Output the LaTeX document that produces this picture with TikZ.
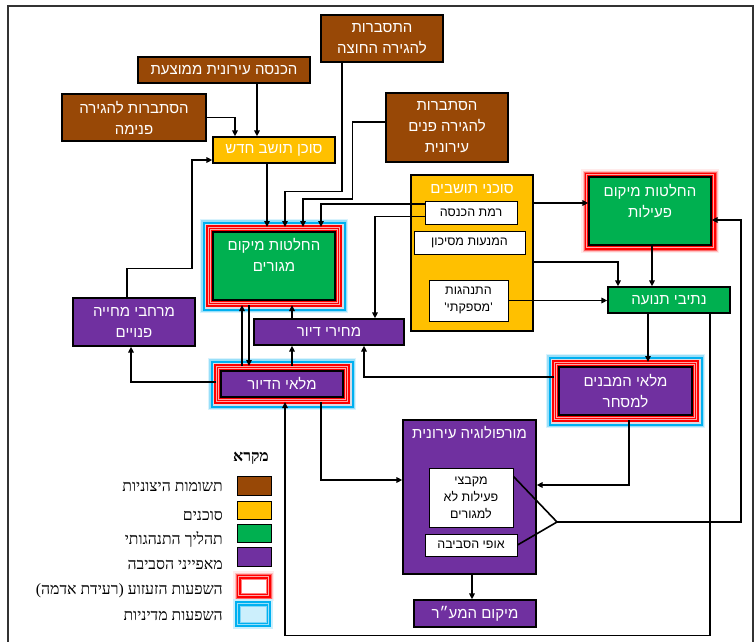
\documentclass[tikz,border=0pt]{standalone}
\usepackage{fontspec}
\setmainfont{Liberation Serif}
\newfontfamily\hsans[Script=Hebrew]{Liberation Sans}
\newfontfamily\hserif[Script=Hebrew]{Liberation Serif}
\usetikzlibrary{arrows.meta}
\TeXXeTstate=1
\newcommand\heb[1]{\beginR #1\endR}
\definecolor{cbrown}{RGB}{152,72,6}
\definecolor{cyel}{RGB}{255,192,0}
\definecolor{cgreen}{RGB}{0,176,80}
\definecolor{cpurp}{RGB}{112,48,160}
\definecolor{cblue}{RGB}{0,176,240}
\tikzset{
  box/.style={draw=black, line width=1.3pt, text=white, font=\hsans\fontsize{15}{21}\selectfont, align=center, inner sep=0pt},
  brownbox/.style={box, fill=cbrown},
  yelbox/.style={box, fill=cyel},
  greenbox/.style={box, fill=cgreen},
  purpbox/.style={box, fill=cpurp},
  wbox/.style={draw=black, line width=1pt, fill=white, text=black, font=\hsans\fontsize{12.5}{17}\selectfont, align=center, inner sep=0pt},
  ttl/.style={text=white, font=\hsans\fontsize{15}{21}\selectfont, align=center, inner sep=0pt},
  legtext/.style={anchor=east, font=\hserif\fontsize{15.8}{18}\selectfont, inner sep=0pt},
  redglow/.style={
    preaction={draw=red!8, line width=16pt},
    preaction={draw=red!25, line width=13pt},
    preaction={draw=red!60, line width=11pt},
    preaction={draw=red, line width=9pt},
    preaction={draw=red!35, line width=6pt},
    preaction={draw=red, line width=4.5pt}},
  bothglow/.style={
    preaction={draw=cblue!15, line width=26pt},
    preaction={draw=cblue!40, line width=23.5pt},
    preaction={draw=cblue, line width=21pt},
    preaction={draw=blue!15!gray!25, line width=17pt},
    preaction={draw=red, line width=14pt},
    preaction={draw=red!35, line width=10pt},
    preaction={draw=red, line width=8pt},
    preaction={draw=red!35, line width=5.5pt},
    preaction={draw=red, line width=4pt}},
  arr/.style={line width=1.6pt, -{Triangle[length=6pt,width=5.5pt]}},
  ln/.style={line width=1.6pt},
}
\begin{document}
\begin{tikzpicture}[x=1pt, y=-1pt]
\useasboundingbox (0,0) rectangle (756,642);
\draw[line width=1.3pt, black!80] (8,642) -- (8,6) -- (753,6) -- (753,642);

% external inputs
\node[brownbox, minimum width=122, minimum height=47] (extout) at (382,38.5) {\heb{התסברות}\\\heb{להגירה החוצה}};
\node[brownbox, minimum width=172, minimum height=26] (income) at (224,70) {\heb{הכנסה עירונית ממוצעת}};
\node[brownbox, minimum width=144, minimum height=47] (inmig) at (134,117.5) {\heb{הסתברות להגירה}\\\heb{פנימה}};
\node[brownbox, minimum width=122, minimum height=69] (intra) at (447,127.5) {\heb{הסתברות}\\\heb{להגירה פנים}\\\heb{עירונית}};

% agents
\node[yelbox, minimum width=122, minimum height=26] (newagent) at (274,150) {\heb{סוכן תושב חדש}};
\node[yelbox, minimum width=122, minimum height=156] (agents) at (472,253) {};
\node[ttl] (agentsT) at (472,189) {\heb{סוכני תושבים}};
\node[wbox, minimum width=92, minimum height=23] (inclev) at (471,212.5) {\heb{רמת הכנסה}};
\node[wbox, minimum width=111, minimum height=23] (risk) at (469.5,242.5) {\heb{המנעות מסיכון}};
\node[wbox, minimum width=79, minimum height=41] (satisf) at (468.5,300.5) {\heb{התנהגות}\\\heb{'מספקתי'}};

% behavioural processes
\node[greenbox, redglow, minimum width=122, minimum height=68] (actdec) at (650,211) {};
\node[ttl] (actdecT) at (650,201) {\heb{החלטות מיקום}\\\heb{פעילות}};
\node[greenbox, bothglow, minimum width=122, minimum height=68, outer sep=5pt] (resdec) at (274,266) {};
\node[ttl] (resdecT) at (274,255) {\heb{החלטות מיקום}\\\heb{מגורים}};
\node[greenbox, minimum width=122, minimum height=26] (traffic) at (669,300) {\heb{נתיבי תנועה}};

% environment
\node[purpbox, bothglow, minimum width=133, minimum height=48, outer sep=5pt] (commstock) at (625.5,391) {\heb{מלאי המבנים}\\\heb{למסחר}};
\node[purpbox, minimum width=122, minimum height=48] (livsp) at (134,322) {\heb{מרחבי מחייה}\\\heb{פנויים}};
\node[purpbox, minimum width=150, minimum height=26] (prices) at (329,332) {\heb{מחירי דיור}};
\node[purpbox, bothglow, minimum width=122, minimum height=26, outer sep=5pt] (housing) at (282,384) {\heb{מלאי הדיור}};
\node[purpbox, minimum width=133, minimum height=154] (morph) at (469.5,497) {};
\node[ttl] (morphT) at (469.5,433) {\heb{מורפולוגיה עירונית}};
\node[wbox, minimum width=84, minimum height=59] (clusters) at (471,497.5) {\heb{מקבצי}\\\heb{פעילות לא}\\\heb{למגורים}};
\node[wbox, minimum width=92, minimum height=22] (envchar) at (471,545) {\heb{אופי הסביבה}};
\node[purpbox, minimum width=122, minimum height=27] (cbd) at (475,613.5) {\heb{מיקום המע״ר}};

% legend
\node[font=\hserif\bfseries\fontsize{15.8}{18}\selectfont, inner sep=0pt] (legT) at (251,458) {\heb{מקרא}};
\node[draw=black, line width=1pt, fill=cbrown, minimum width=34, minimum height=19, inner sep=0pt] (lg1) at (254,485.5) {};
\node[draw=black, line width=1pt, fill=cyel, minimum width=34, minimum height=18, inner sep=0pt] (lg2) at (254,510) {};
\node[draw=black, line width=1pt, fill=cgreen, minimum width=34, minimum height=18, inner sep=0pt] (lg3) at (254,533) {};
\node[draw=black, line width=1pt, fill=cpurp, minimum width=34, minimum height=19, inner sep=0pt] (lg4) at (254,556.5) {};
\node[draw=red!50, line width=1pt, fill=white, redglow, minimum width=25, minimum height=14, inner sep=0pt] (lg5) at (253.5,586) {};
\node[draw=cblue!50, line width=1pt, fill=cblue!20, preaction={draw=cblue!20, line width=14pt}, preaction={draw=cblue, line width=10pt}, preaction={draw=cblue!40, line width=6pt}, preaction={draw=cblue, line width=4pt}, minimum width=26, minimum height=16, inner sep=0pt] (lg6) at (253,614) {};
\node[legtext] (lt1) at (223,487) {\heb{תשומות היצוניות}};
\node[legtext] (lt2) at (223,516) {\heb{סוכנים}};
\node[legtext] (lt3) at (223,540) {\heb{תהליך התנהגותי}};
\node[legtext] (lt4) at (223,565) {\heb{מאפייני הסביבה}};
\node[legtext] (lt5) at (223,591) {\heb{השפעות הזעזוע (רעידת אדמה)}};
\node[legtext] (lt6) at (223,616) {\heb{השפעות מדיניות}};

% connectors
\draw[arr] ([xshift=-17]newagent.north |- income.south) -- ([xshift=-17]newagent.north);
\draw[arr] (inmig.east) -| ([xshift=-39]newagent.north);
\draw[arr] ([xshift=-7]newagent.south) -- ([xshift=-7]newagent.south |- resdec.north);
\draw[arr] ([xshift=-40]extout.south) -- ++(0,129) -| ([xshift=11]resdec.north);
\draw[arr] ([yshift=5.5]intra.west) -- ++(-33,0) -- ++(0,77) -| ([xshift=29]resdec.north);
\draw[arr] ([yshift=8.5]inclev.west) -| ([xshift=47]resdec.north);
\draw[arr] ([yshift=-4]inclev.west) -| ([xshift=46]prices.north);
\draw[arr] ([yshift=50]agents.east) -- ([yshift=50]agents.east -| actdec.west);
\draw[arr] ([yshift=-9]agents.east) -| ([xshift=-51]traffic.north);
\draw[arr] (satisf.east) -- (satisf.east -| traffic.west);
\draw[arr] ([xshift=-17]traffic.north |- actdec.south) -- ([xshift=-17]traffic.north);
\draw[arr] ([xshift=-21]traffic.south) -- ([xshift=-21]traffic.south |- commstock.north);
\draw[arr] ([xshift=41]traffic.south) -- ++(0,322) -| ([xshift=3]housing.south);
\coordinate (apex) at (557,522);
\draw[ln] ([yshift=-9]clusters.north east) -- (apex) -- (envchar.east);
\draw[arr] (apex) -- ++(184,0) |- ([yshift=-9]actdec.east);
\draw[arr] ([xshift=3.5]commstock.south) |- ([yshift=12]morph.east);
\draw[arr] ([yshift=14]commstock.west) -| ([xshift=35]prices.south);
\draw[arr] ([xshift=39]housing.south) |- ([yshift=17]morph.west);
\draw[arr] ([xshift=2.5]morph.south) -- ([xshift=2.5]morph.south |- cbd.north);
\draw[arr] ([xshift=-40]housing.north) -- ([xshift=-40]housing.north |- resdec.south);
\draw[arr] ([xshift=-33]housing.north |- resdec.south) -- ([xshift=-33]housing.north);
\draw[arr] ([xshift=-37]prices.south |- housing.north) -- ([xshift=-37]prices.south);
\draw[arr] ([xshift=-37]prices.north) -- ([xshift=-37]prices.north |- resdec.south);
\draw[arr] ([yshift=2]housing.west) -| ([xshift=-3]livsp.south);
\draw[arr] ([xshift=-7]livsp.north) -- ++(0,-29) -- ++(65,0) |- ([yshift=-10]newagent.west);
\end{tikzpicture}
\end{document}
